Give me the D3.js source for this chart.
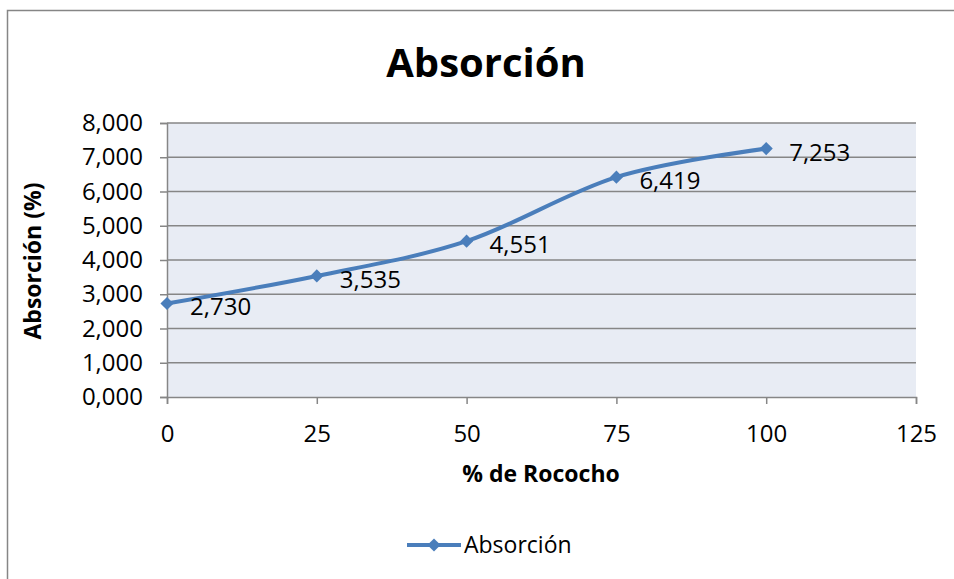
<html><head>
<title>Absorción</title>
<script src="https://d3js.org/d3.v7.min.js"></script>
<style>
  body { margin: 0; background: #fff; }
  text { font-family: "Open Sans", Lato, sans-serif; }
</style>
</head>
<body>
<svg id="chart" width="954" height="579"></svg>
<script>
  // data
  const rococho = [0, 25, 50, 75, 100];
  const absorcion = [2.730, 3.535, 4.551, 6.419, 7.253];
  const xTicks = [0, 25, 50, 75, 100, 125];
  const yTicks = [0, 1, 2, 3, 4, 5, 6, 7, 8];

  const svg = d3.select("svg#chart");
  const plotLeft = 167, plotRight = 916, plotTop = 123, plotBottom = 397;
  const lineColor = "#4a7ebb";
  const font = "'Open Sans', Lato, sans-serif";

  const es = d3.formatLocale({decimal: ",", thousands: ".", grouping: [3], currency: ["", ""]});
  const fmt = es.format(".3f");

  // outer frame (cut off at right/bottom)
  svg.append("path")
     .attr("d", "M7.5,580 V10.5 H960")
     .attr("fill", "none").attr("stroke", "#868686").attr("stroke-width", 1.5);

  let x = d3.scaleLinear().domain([0, 125]).range([plotLeft, plotRight]);
  let y = d3.scaleLinear().domain([0, 8]).range([plotBottom, plotTop]);

  svg.append("rect").attr("x", plotLeft).attr("y", plotTop)
     .attr("width", plotRight - plotLeft).attr("height", plotBottom - plotTop)
     .attr("fill", "#e8ecf4");

  // gridlines
  svg.append("g").selectAll("line").data(yTicks.slice(1)).join("line")
     .attr("x1", plotLeft).attr("x2", plotRight)
     .attr("y1", d => y(d)).attr("y2", d => y(d))
     .attr("stroke", "#868686").attr("stroke-width", 1.5);

  // y axis
  let yAxis = svg.append("g").attr("transform", `translate(${plotLeft},0)`)
     .call(d3.axisLeft(y).tickValues(yTicks).tickFormat(fmt).tickSize(7).tickPadding(17));
  yAxis.attr("font-size", null).attr("font-family", null);
  yAxis.select(".domain").attr("stroke", "#868686").attr("stroke-width", 1.5);
  yAxis.selectAll(".tick line").attr("stroke", "#868686").attr("stroke-width", 1.5);
  yAxis.selectAll(".tick text").style("font-size", "24px").attr("fill", "#000")
     .style("font-family", font);

  // x axis
  let xAxis = svg.append("g").attr("transform", `translate(0,${plotBottom})`)
     .call(d3.axisBottom(x).tickValues(xTicks).tickFormat(d3.format("d")).tickSize(7).tickPadding(21));
  xAxis.attr("font-size", null).attr("font-family", null);
  xAxis.select(".domain").attr("stroke", "#868686").attr("stroke-width", 1.5);
  xAxis.selectAll(".tick line").attr("stroke", "#868686").attr("stroke-width", 1.5);
  xAxis.selectAll(".tick text").style("font-size", "24px").attr("fill", "#000")
     .style("font-family", font);

  // titles
  svg.append("text").attr("x", 486).attr("y", 77).attr("text-anchor", "middle")
     .style("font-size", "40px").attr("font-weight", "bold").text("Absorción");
  svg.append("text").attr("x", 541).attr("y", 482).attr("text-anchor", "middle")
     .style("font-size", "23px").attr("font-weight", "bold").text("% de Rococho");
  svg.append("text").attr("transform", "translate(41,261) rotate(-90)").attr("text-anchor", "middle")
     .style("font-size", "23px").attr("font-weight", "bold").text("Absorción (%)");

  // series
  const pts = rococho.map((r, i) => [r, absorcion[i]]);
  const line = d3.line().x(d => x(d[0])).y(d => y(d[1])).curve(d3.curveCatmullRom.alpha(0));
  svg.append("path").attr("d", line(pts))
     .attr("fill", "none").attr("stroke", lineColor).attr("stroke-width", 4);

  const diamond = d3.symbol().type(d3.symbolDiamond2).size(110);
  svg.append("g").selectAll("path").data(pts).join("path")
     .attr("d", diamond)
     .attr("transform", d => `translate(${x(d[0])},${y(d[1])})`)
     .attr("fill", lineColor);

  svg.append("g").selectAll("text").data(pts).join("text")
     .attr("x", d => x(d[0]) + 23).attr("y", d => y(d[1]) + 12)
     .style("font-size", "24px").attr("fill", "#000")
     .text(d => fmt(d[1]));

  // legend
  let legend = svg.append("g").attr("transform", "translate(407,545)");
  legend.append("line").attr("x1", 0).attr("x2", 54).attr("y1", 0).attr("y2", 0)
     .attr("stroke", lineColor).attr("stroke-width", 4);
  legend.append("path").attr("d", diamond).attr("transform", "translate(27,0)").attr("fill", lineColor);
  legend.append("text").attr("x", 57).attr("y", 8).style("font-size", "23px").text("Absorción");
</script>
</body>
</html>
